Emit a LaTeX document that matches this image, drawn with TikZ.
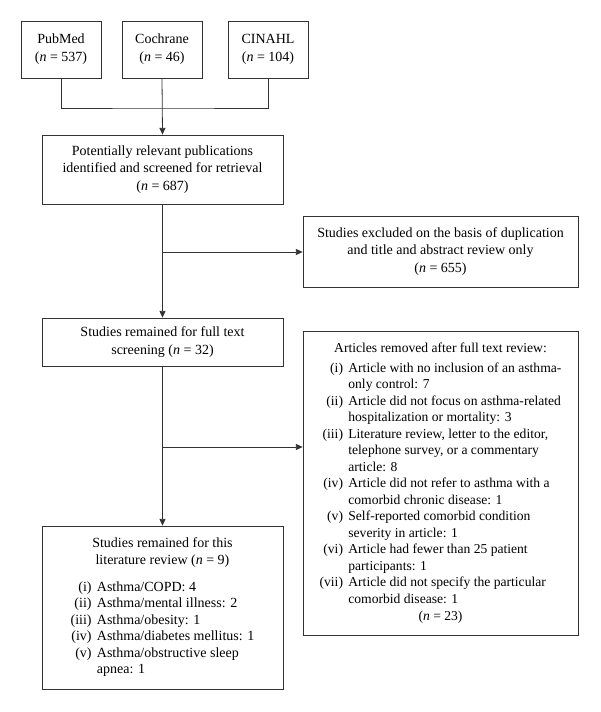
\documentclass[tikz,border=0pt]{standalone}
\usepackage{fontspec}
\setmainfont{Liberation Serif}
\usetikzlibrary{arrows.meta}
\begin{document}
\begin{tikzpicture}[x=0.75pt,y=-0.75pt,
  box/.style={draw=black!80,line width=0.6pt,inner sep=0pt,align=center,font=\fontsize{10.5}{12.9}\selectfont},
  conn/.style={draw=black!80,line width=0.6pt},
  arr/.style={conn,-{Triangle[length=5pt,width=4.5pt]}}]
\useasboundingbox (0,0) rectangle (600,712);
\node[box,minimum width=60pt,minimum height=42.75pt,font=\fontsize{10.5}{13.5}\selectfont] (pub) at (61,49.5) {PubMed\\(\textit{n}~=~537)};
\node[box,minimum width=60pt,minimum height=42.75pt,font=\fontsize{10.5}{13.5}\selectfont] (coc) at (162,49.5) {Cochrane\\(\textit{n}~=~46)};
\node[box,minimum width=60pt,minimum height=42.75pt,font=\fontsize{10.5}{13.5}\selectfont] (cin) at (268,49.5) {CINAHL\\(\textit{n}~=~104)};
\node[box,minimum width=180.75pt,minimum height=51.75pt] (pot) at (162.5,169.5) {Potentially relevant publications\\identified and screened for retrieval\\(\textit{n}~=~687)};
\node[box,minimum width=206.25pt,minimum height=53.25pt] (exc) at (440.5,251.5) {Studies excluded on the basis of duplication\\and title and abstract review only\\(\textit{n}~=~655)};
\node[box,minimum width=180.75pt,minimum height=36pt] (full) at (162.5,342) {Studies remained for full text\\screening (\textit{n}~=~32)};
\node[box,minimum width=206.25pt,minimum height=228pt,font=\fontsize{10.2}{12.4}\selectfont] (rem) at (440.5,483) {%
\begin{tabular}{@{}r@{\hspace{4pt}}l@{}}
\multicolumn{2}{c}{Articles removed after full text review:}\\[2.2pt]
(i) & Article with no inclusion of an asthma-\\
 & only control: 7\\
(ii) & Article did not focus on asthma-related\\
 & hospitalization or mortality: 3\\
(iii) & Literature review, letter to the editor,\\
 & telephone survey, or a commentary\\
 & article: 8\\
(iv) & Article did not refer to asthma with a\\
 & comorbid chronic disease: 1\\
(v) & Self-reported comorbid condition\\
 & severity in article: 1\\
(vi) & Article had fewer than 25 patient\\
 & participants: 1\\
(vii) & Article did not specify the particular\\
 & comorbid disease: 1\\
\multicolumn{2}{c}{(\textit{n}~=~23)}
\end{tabular}};
\node[box,minimum width=180.75pt,minimum height=122.25pt,font=\fontsize{10.5}{12.4}\selectfont] (fin) at (162.5,607.5) {%
\begin{tabular}{@{}r@{\hspace{4pt}}l@{}}
\multicolumn{2}{c}{Studies remained for this}\\
\multicolumn{2}{c}{literature review (\textit{n}~=~9)}\\[7.5pt]
(i) & Asthma/COPD: 4\\
(ii) & Asthma/mental illness: 2\\
(iii) & Asthma/obesity: 1\\
(iv) & Asthma/diabetes mellitus: 1\\
(v) & Asthma/obstructive sleep\\
 & apnea: 1
\end{tabular}};
\coordinate (join) at (162,108);
\coordinate (b1) at (162,252);
\coordinate (b2) at (162,447);
\draw[conn] (pub.south) |- (join) -| (cin.south);
\draw[arr] (coc.south) -- (pot.north);
\draw[arr] (pot.south) -- (full.north);
\draw[arr] (b1) -- (b1 -| exc.west);
\draw[arr] (full.south) -- (fin.north);
\draw[arr] (b2) -- (b2 -| rem.west);
\end{tikzpicture}
\end{document}
